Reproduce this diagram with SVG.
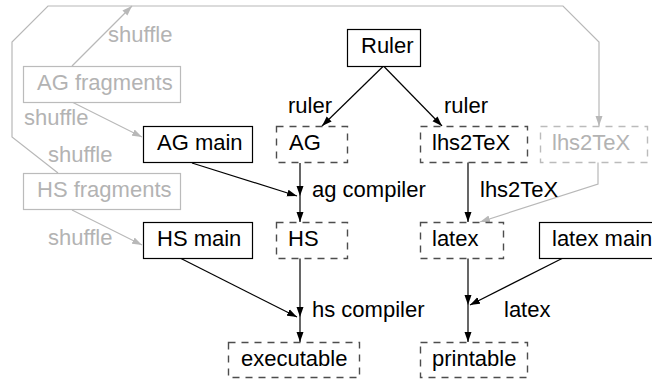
<svg xmlns="http://www.w3.org/2000/svg" width="652" height="381" viewBox="0 0 652 381">
<style>
text{font-family:"Liberation Sans",Arial,sans-serif;font-size:22px;fill:#000}
.g text, text.g{fill:#b3b3b3}
.solid{fill:#fff;stroke:#000;stroke-width:1.2}
.dash{fill:#fff;stroke:#4d4d4d;stroke-width:1.4;stroke-dasharray:7,6}
.gdash{fill:#fff;stroke:#bbb;stroke-width:1.4;stroke-dasharray:7,6}
.gsolid{fill:#fff;stroke:#bbb;stroke-width:1.2}
.e{fill:none;stroke:#000;stroke-width:1.2}
.ge{fill:none;stroke:#b8b8b8;stroke-width:1.2}
</style>
<defs>
<marker id="ah" viewBox="0 0 10 8" refX="10" refY="4" markerWidth="10" markerHeight="8" markerUnits="userSpaceOnUse" orient="auto"><path d="M0,0.5L10,4L0,7.5z" fill="#000"/></marker>
<marker id="gah" viewBox="0 0 10 8" refX="10" refY="4" markerWidth="10" markerHeight="8" markerUnits="userSpaceOnUse" orient="auto"><path d="M0,0.5L10,4L0,7.5z" fill="#b8b8b8"/></marker>
</defs>
<g id="connectors">
<path class="ge" d="M72,66L132,6" marker-end="url(#gah)"/>
<path class="ge" d="M58,173L12,137L12,42L48,6L563,6L599,42L599,126" marker-end="url(#gah)"/>
<path class="ge" d="M72,102L142,137" marker-end="url(#gah)"/>
<path class="ge" d="M72,210L142,245" marker-end="url(#gah)"/>
<path class="ge" d="M598,162L598,184L480,222" marker-end="url(#gah)"/>
<path class="e" d="M383.5,66L322,126" marker-end="url(#ah)"/>
<path class="e" d="M383.5,66L442,126" marker-end="url(#ah)"/>
<path class="e" d="M300,163L300,196" marker-end="url(#ah)"/>
<path class="e" d="M192,163L297,196" marker-end="url(#ah)"/>
<path class="e" d="M300,196L300,222" marker-end="url(#ah)"/>
<path class="e" d="M300,258L300,317" marker-end="url(#ah)"/>
<path class="e" d="M180,258L297,317" marker-end="url(#ah)"/>
<path class="e" d="M300,317L300,342" marker-end="url(#ah)"/>
<path class="e" d="M468,162L468,222" marker-end="url(#ah)"/>
<path class="e" d="M468,258L468,305" marker-end="url(#ah)"/>
<path class="e" d="M563,258L470,305" marker-end="url(#ah)"/>
<path class="e" d="M468,305L468,342" marker-end="url(#ah)"/>
<text x="288" y="113">ruler</text>
<text x="444" y="113">ruler</text>
<text x="312" y="197">ag compiler</text>
<text x="312" y="317">hs compiler</text>
<text x="480" y="197">lhs2TeX</text>
<text x="504" y="317">latex</text>
<text class="g" x="108" y="42">shuffle</text>
<text class="g" x="24" y="125">shuffle</text>
<text class="g" x="48" y="162">shuffle</text>
<text class="g" x="48" y="245">shuffle</text>
</g>
<g id="ruler"><rect class="solid" x="347.5" y="29.5" width="73" height="37"/><text x="361" y="53">Ruler</text></g>
<g id="ag-fragments" class="g"><rect class="gsolid" x="23.5" y="66.5" width="157" height="36"/><text x="37" y="90">AG fragments</text></g>
<g id="ag-main"><rect class="solid" x="143.5" y="126.5" width="109" height="36"/><text x="157" y="150">AG main</text></g>
<g id="ag"><rect class="dash" x="276.5" y="126.5" width="71" height="36"/><text x="289" y="150">AG</text></g>
<g id="lhs2tex"><rect class="dash" x="420.5" y="126.5" width="107" height="36"/><text x="432" y="150">lhs2TeX</text></g>
<g id="lhs2tex-gray" class="g"><rect class="gdash" x="540.5" y="126.5" width="107" height="36"/><text x="552" y="150">lhs2TeX</text></g>
<g id="hs-fragments" class="g"><rect class="gsolid" x="23.5" y="173.5" width="157" height="36"/><text x="37" y="197">HS fragments</text></g>
<g id="hs-main"><rect class="solid" x="143.5" y="222.5" width="109" height="36"/><text x="157" y="246">HS main</text></g>
<g id="hs"><rect class="dash" x="276.5" y="222.5" width="71" height="36"/><text x="288" y="246">HS</text></g>
<g id="latex"><rect class="dash" x="420.5" y="222.5" width="83" height="36"/><text x="432" y="246">latex</text></g>
<g id="latex-main"><rect class="solid" x="539.5" y="222.5" width="125" height="36"/><text x="552" y="246">latex main</text></g>
<g id="executable"><rect class="dash" x="228.5" y="342.5" width="131" height="35"/><text x="241" y="366">executable</text></g>
<g id="printable"><rect class="dash" x="420.5" y="342.5" width="107" height="35"/><text x="432" y="366">printable</text></g>
</svg>
